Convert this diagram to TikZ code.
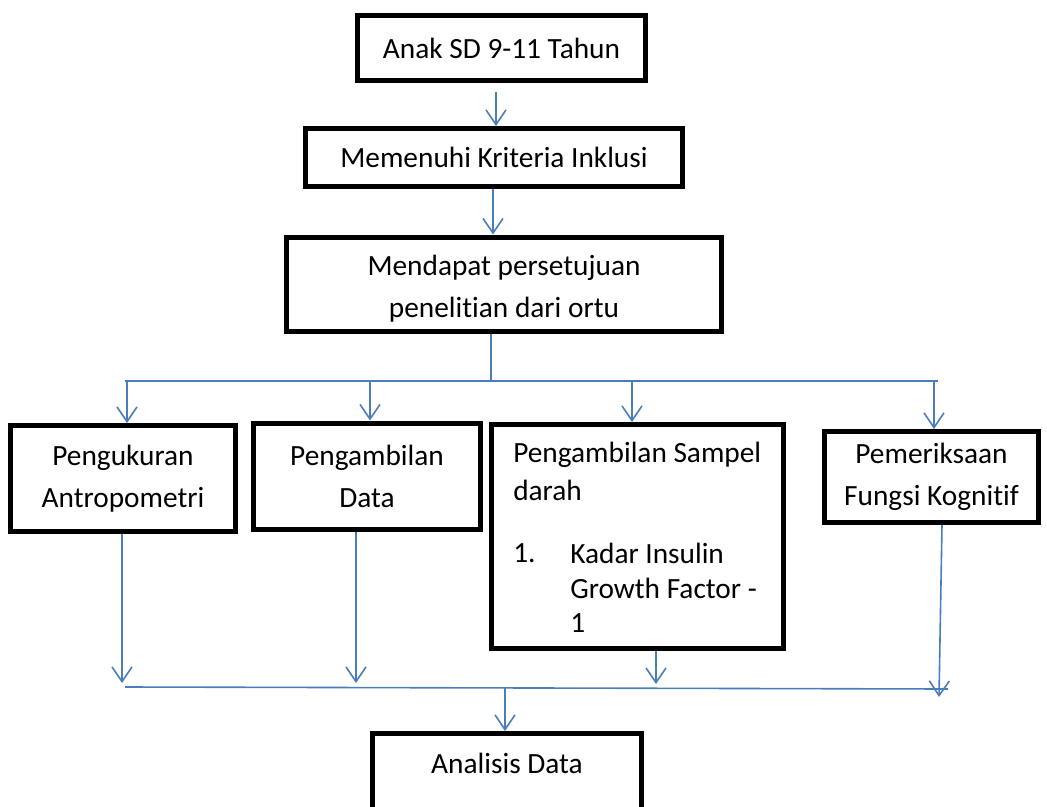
\documentclass[tikz,border=0pt]{standalone}
\usepackage{fontspec}
\setmainfont{Carlito}[Ligatures={NoCommon}]
\usetikzlibrary{arrows.meta}
\definecolor{conblue}{HTML}{4A7EBB}
\tikzset{
  boxnode/.style={draw=black, line width=3.75pt, fill=white, inner sep=0pt, align=center,
    font=\fontsize{22}{31.5}\selectfont},
  txt/.style={inner sep=0pt, align=center, font=\fontsize{22}{31.5}\selectfont},
  conn/.style={draw=conblue, line width=1.2pt},
  arr/.style={conn, -{Straight Barb[length=11pt,width=15pt,line width=1.2pt]}}
}
\begin{document}
\begin{tikzpicture}[x=0.75pt,y=-0.75pt]
\useasboundingbox (0,0) rectangle (1047,807);
\clip (0,0) rectangle (1047,807);
% boxes
\node[boxnode, minimum width=216pt, minimum height=48.75pt] (b1) at (501.5,48) {Anak SD 9-11 Tahun};
\node[boxnode, minimum width=282.75pt, minimum height=43.5pt] (b2) at (494,157.5) {Memenuhi Kriteria Inklusi};
\node[boxnode, minimum width=326.25pt, minimum height=70.5pt] (b3) at (504,284) {};
\node[boxnode, minimum width=168.75pt, minimum height=79.5pt] (ba) at (123,478.5) {Pengukuran\\Antropometri};
\node[boxnode, minimum width=170.25pt, minimum height=79.5pt] (bb) at (367,476) {Pengambilan\\Data};
\node[boxnode, minimum width=219pt, minimum height=168pt] (bc) at (637.5,536.5) {};
\node[boxnode, minimum width=160.5pt, minimum height=68.25pt] (bd) at (931.5,477) {Pemeriksaan\\Fungsi Kognitif};
\node[boxnode, minimum width=201.75pt, minimum height=120pt, anchor=north] (be) at (507,731) {};
% texts inside boxes 3, C and E
\node[txt] (b3t) at (504,288.5) {Mendapat persetujuan\\penelitian dari ortu};
\node[txt, anchor=west] (c1) at (513,455) {Pengambilan Sampel};
\node[txt, anchor=west] (c2) at (513,490) {darah};
\node[txt, anchor=west] (c3) at (513,553) {1.};
\node[txt, anchor=west] (c4) at (570,553) {Kadar Insulin};
\node[txt, anchor=west] (c5) at (570,588) {Growth Factor -};
\node[txt, anchor=west] (c6) at (570,623) {1};
\node[txt] (et) at (507,763) {Analisis Data};
% top connectors
\draw[arr] (b1.south -| 496,0) ++(0,9) -- (b2.north -| 496,0);
\draw[arr] (b2.south -| 493,0) -- (b3.north -| 493,0);
\coordinate (t0) at (491,381);
\coordinate (tl) at (125,381);
\coordinate (tr) at (938,381);
\coordinate (t1) at (127,381);
\coordinate (t2) at (370,381);
\coordinate (t3) at (632,381);
\coordinate (t4) at (934,381);
\draw[conn] (b3.south -| t0) -- (t0);
\draw[conn] (tl) -- (tr);
\draw[arr] (t1) -- (ba.north -| t1);
\draw[arr] (t2) -- (bb.north -| t2);
\draw[arr] (t3) -- (bc.north -| t3);
\draw[arr] (t4) -- (bd.north -| t4);
% bottom connectors
\coordinate (ul) at (125,687);
\coordinate (ur) at (948,689);
\coordinate (u1) at (122,683);
\coordinate (u2) at (356,683);
\coordinate (u3) at (656,684);
\coordinate (u4) at (939,697);
\coordinate (u0) at (505,688);
\draw[arr] (ba.south -| u1) -- (u1);
\draw[arr] (bb.south -| u2) -- (u2);
\draw[arr] (bc.south -| u3) -- (u3);
\draw[arr] (bd.south -| 942,0) -- (u4);
\draw[conn] (ul) -- (ur);
\draw[arr] (u0) -- (be.north -| u0);
\end{tikzpicture}
\end{document}
